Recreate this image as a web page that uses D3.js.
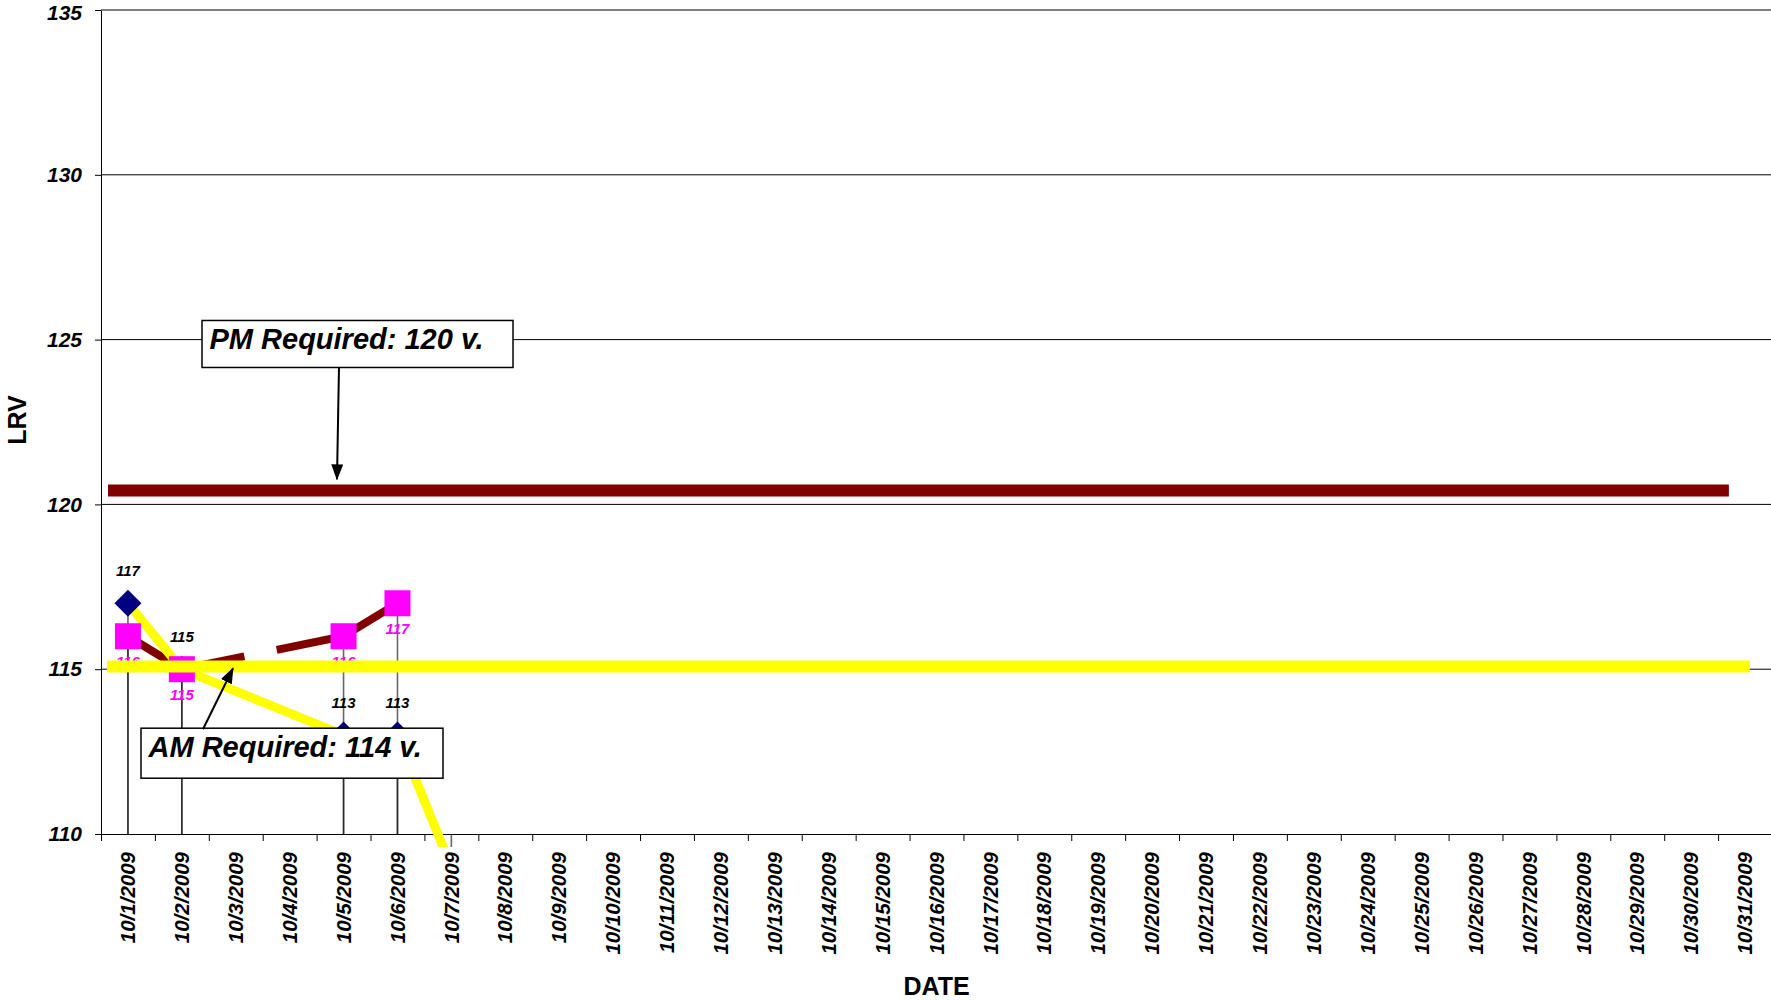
<!DOCTYPE html>
<html>
<head>
<meta charset="utf-8">
<script src="https://cdn.jsdelivr.net/npm/d3@7"></script>
<style>
  body { margin: 0; background: #fff; }
  svg { display: block; font-family: "Liberation Sans", Arial, sans-serif; }
</style>
</head>
<body>
<svg id="chart" width="1771" height="1000"></svg>
<script>
// categories: every day of October 2009
const dates = d3.range(1, 32).map(d => `10/${d}/2009`);

// AM readings (navy diamonds, yellow line)
const amDays = [1, 2, 5, 6, 7];
const amValues = [117, 115, 113, 113, 109];

// PM readings (magenta squares, maroon dashed line)
const pmDays = [1, 2, 5, 6];
const pmValues = [116, 115, 116, 117];

const yTicks = [110, 115, 120, 125, 130, 135];

// hand drawn requirement bars (day units / LRV units)
const pmRequired = { value: 120.42, from: 0.63, to: 30.7 };
const amRequired = { value: 115.08, from: 0.61, to: 31.09 };

const notes = [
  { text: "PM Required: 120 v.", day: 2.374, value: 125.58, w: 311, h: 47, from: [4.915, 124.15], to: [4.878, 120.76] },
  { text: "AM Required: 114 v.", day: 1.242, value: 113.21, w: 302, h: 50, from: [2.392, 113.18], to: [2.949, 115.03] }
];

const W = 1771, H = 1000;
const plotLeft = 101, plotRight = 1772, plotTop = 10, plotBottom = 834;

const svg = d3.select("#chart");

const x = d3.scaleBand().domain(dates).range([plotLeft, plotRight]);
const xd = d3.scaleLinear().domain([0.5, 31.5]).range([plotLeft, plotRight]);
const y = d3.scaleLinear().domain([110, 135]).range([plotBottom, plotTop]);

const am = amDays.map((d, i) => ({ day: d, value: amValues[i] }));
const pm = pmDays.map((d, i) => ({ day: d, value: pmValues[i] }));

const defs = svg.append("defs");
defs.append("clipPath").attr("id", "plot-clip")
  .append("rect").attr("x", plotLeft).attr("y", 0).attr("width", plotRight - plotLeft).attr("height", 847);

defs.append("marker")
  .attr("id", "arrow")
  .attr("viewBox", "0 0 16 12")
  .attr("refX", 15).attr("refY", 6)
  .attr("markerWidth", 16).attr("markerHeight", 12)
  .attr("markerUnits", "userSpaceOnUse")
  .attr("orient", "auto")
  .append("path").attr("d", "M0,0L16,6L0,12Z").attr("fill", "#000");

// gridlines
svg.append("g").selectAll("line")
  .data(yTicks.filter(v => v > 110))
  .join("line")
  .attr("x1", plotLeft).attr("x2", W)
  .attr("y1", d => y(d)).attr("y2", d => y(d))
  .attr("stroke", "#000").attr("stroke-width", 1);

// y axis
const yAxis = svg.append("g")
  .attr("transform", `translate(${plotLeft},0)`)
  .call(d3.axisLeft(y).tickValues(yTicks).tickSize(6).tickSizeOuter(0).tickPadding(13));
yAxis.selectAll("text")
  .attr("font-size", 21).attr("font-weight", "bold").attr("font-style", "italic")
  .attr("font-family", "'Liberation Sans', Arial, sans-serif").attr("fill", "#000");
yAxis.selectAll("text").filter(d => d === 135).attr("dy", "0.45em");
yAxis.selectAll("line, path").attr("stroke", "#000");

// x axis with ticks between categories
const xAxis = svg.append("g")
  .attr("transform", `translate(0,${plotBottom})`)
  .call(d3.axisBottom(xd).tickValues(d3.range(0.5, 32, 1)).tickSize(7).tickSizeOuter(0).tickFormat(""));
xAxis.selectAll("line, path").attr("stroke", "#000");

svg.append("g").selectAll("text")
  .data(dates)
  .join("text")
  .attr("transform", d => `translate(${x(d) + x.bandwidth() / 2},852) rotate(-90)`)
  .attr("text-anchor", "end")
  .attr("dy", "0.35em")
  .attr("font-size", 20.5).attr("font-weight", "bold").attr("font-style", "italic")
  .text(d => d);

// axis titles
svg.append("text")
  .attr("transform", "translate(26,420) rotate(-90)")
  .attr("text-anchor", "middle")
  .attr("font-size", 25).attr("font-weight", "bold")
  .text("LRV");
svg.append("text")
  .attr("x", (plotLeft + plotRight) / 2).attr("y", 995)
  .attr("text-anchor", "middle")
  .attr("font-size", 25).attr("font-weight", "bold")
  .text("DATE");

const plot = svg.append("g").attr("clip-path", "url(#plot-clip)");

// drop lines
[am, pm].forEach(series => {
  plot.append("g").selectAll("line")
    .data(series)
    .join("line")
    .attr("x1", d => xd(d.day)).attr("x2", d => xd(d.day))
    .attr("y1", d => y(d.value)).attr("y2", y(110))
    .attr("stroke", "#000").attr("stroke-opacity", 0.6).attr("stroke-width", 1.6);
});

const line = d3.line().x(d => xd(d.day)).y(d => y(d.value));

plot.append("path")
  .attr("d", line(pm))
  .attr("fill", "none").attr("stroke", "#800000").attr("stroke-width", 8)
  .attr("stroke-dasharray", "127 33");

plot.append("path")
  .attr("d", line(am))
  .attr("fill", "none").attr("stroke", "#ffff00").attr("stroke-width", 9);

// markers
plot.append("g").selectAll("path")
  .data(am)
  .join("path")
  .attr("transform", d => `translate(${xd(d.day)},${y(d.value)})`)
  .attr("d", "M0,-13.5L13.5,0L0,13.5L-13.5,0Z")
  .attr("fill", "#000080");

plot.append("g").selectAll("rect")
  .data(pm)
  .join("rect")
  .attr("x", d => xd(d.day) - 13).attr("y", d => y(d.value) - 13)
  .attr("width", 26).attr("height", 26)
  .attr("fill", "#ff00ff");

// point labels
svg.append("g").selectAll("text")
  .data(am.filter(d => d.value >= 110))
  .join("text")
  .attr("x", d => xd(d.day)).attr("y", d => y(d.value) - 27)
  .attr("text-anchor", "middle")
  .attr("font-size", 15).attr("font-weight", "bold").attr("font-style", "italic")
  .attr("fill", "#000")
  .text(d => d.value);

svg.append("g").selectAll("text")
  .data(pm.filter(d => d.value >= 110))
  .join("text")
  .attr("x", d => xd(d.day)).attr("y", d => y(d.value) + 31)
  .attr("text-anchor", "middle")
  .attr("font-size", 15).attr("font-weight", "bold").attr("font-style", "italic")
  .attr("fill", "#ff00ff")
  .text(d => d.value);

// requirement bars
[[pmRequired, "#800000"], [amRequired, "#ffff00"]].forEach(([r, c]) => {
  svg.append("line")
    .attr("x1", xd(r.from)).attr("x2", xd(r.to))
    .attr("y1", y(r.value)).attr("y2", y(r.value))
    .attr("stroke", c).attr("stroke-width", 12);
});

// annotation boxes and arrows
notes.forEach(n => {
  const bx = xd(n.day), by = y(n.value);
  svg.append("rect")
    .attr("x", bx).attr("y", by).attr("width", n.w).attr("height", n.h)
    .attr("fill", "#fff").attr("stroke", "#000").attr("stroke-width", 1.5);
  svg.append("text")
    .attr("x", bx + 7.5).attr("y", by + 29)
    .attr("font-size", 29).attr("font-weight", "bold").attr("font-style", "italic")
    .text(n.text);
  svg.append("line")
    .attr("x1", xd(n.from[0])).attr("y1", y(n.from[1]))
    .attr("x2", xd(n.to[0])).attr("y2", y(n.to[1]))
    .attr("stroke", "#000").attr("stroke-width", 2)
    .attr("marker-end", "url(#arrow)");
});
</script>
</body>
</html>
